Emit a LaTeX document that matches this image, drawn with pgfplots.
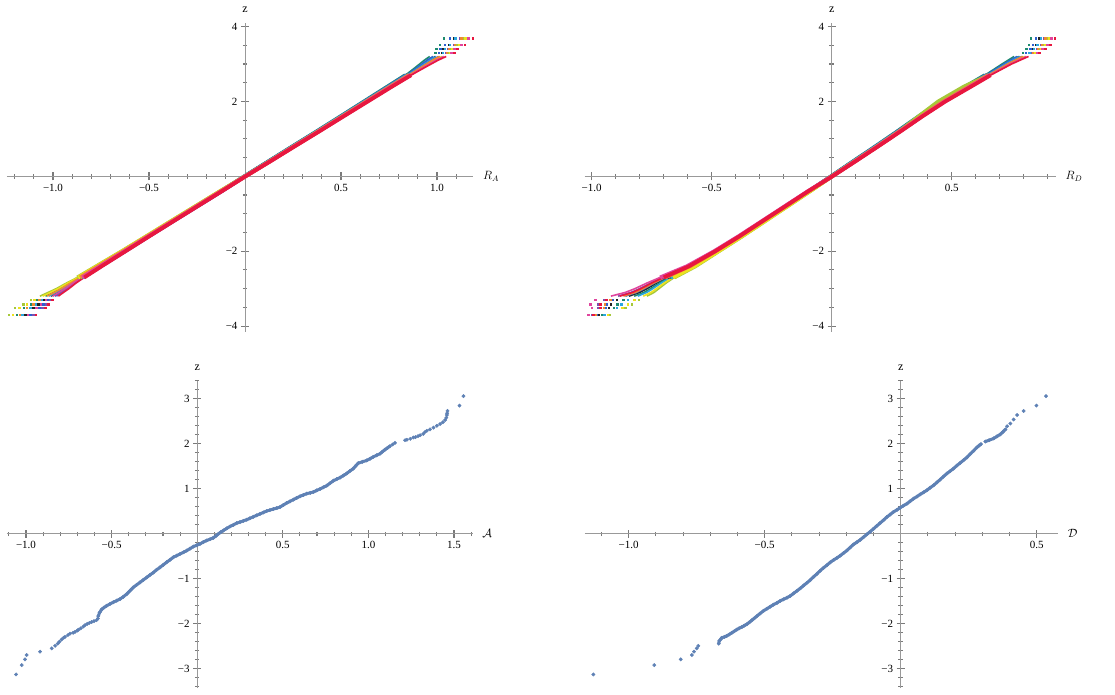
\documentclass[border=0pt]{standalone}
\usepackage{fontspec}
\setmainfont{Liberation Serif}
\usepackage{pgfplots}
\pgfplotsset{compat=1.18}
\usepackage{pgfplotstable}

\definecolor{axgray}{HTML}{999999}
\definecolor{tkgray}{HTML}{7A7A7A}
\definecolor{ptblue}{HTML}{5E81B5}
\definecolor{c1}{HTML}{222222}
\definecolor{c2}{HTML}{1E8B6E}
\definecolor{c3}{HTML}{2F5FD0}
\definecolor{c4}{HTML}{2AA7DF}
\definecolor{c5}{HTML}{7F4FB0}
\definecolor{c6}{HTML}{A6C83A}
\definecolor{c7}{HTML}{EDE21E}
\definecolor{c8}{HTML}{F08A30}
\definecolor{c9}{HTML}{E0459E}
\definecolor{c10}{HTML}{E8173F}

\pgfplotstableread{
z r1 r2 r3 r4 r5 r6 r7 r8 r9 r10
3.30 1.025 0.990 1.010 1.030 1.045 1.055 1.065 1.050 1.075 1.090
3.41 1.033 0.995 1.017 1.039 1.056 1.067 1.078 1.061 1.089 1.105
3.51 1.060 1.015 1.041 1.067 1.087 1.100 1.113 1.093 1.126 1.145
3.69 1.087 1.035 1.065 1.095 1.118 1.133 1.148 1.125 1.163 1.185
-3.30 -1.049 -1.082 -1.027 -1.060 -1.016 -1.115 -1.099 -1.071 -1.038 -1.005
-3.41 -1.077 -1.116 -1.051 -1.090 -1.038 -1.155 -1.136 -1.103 -1.064 -1.025
-3.51 -1.104 -1.152 -1.072 -1.120 -1.056 -1.200 -1.176 -1.136 -1.088 -1.040
-3.69 -1.146 -1.188 -1.118 -1.160 -1.104 -1.230 -1.209 -1.174 -1.132 -1.090
}\tlTail

\pgfplotstableread{
z r1 r2 r3 r4 r5 r6 r7 r8 r9 r10
-3.20 -1.010 -1.039 -0.991 -1.020 -0.982 -1.068 -1.054 -1.030 -1.001 -0.972
-3.10 -0.977 -1.001 -0.961 -0.985 -0.953 -1.025 -1.013 -0.993 -0.969 -0.945
-3.00 -0.943 -0.963 -0.930 -0.950 -0.924 -0.983 -0.973 -0.957 -0.937 -0.917
-2.85 -0.900 -0.915 -0.890 -0.905 -0.885 -0.930 -0.923 -0.910 -0.895 -0.880
-2.70 -0.851 -0.862 -0.844 -0.855 -0.841 -0.873 -0.868 -0.859 -0.848 -0.837
-2.40 -0.757 -0.766 -0.752 -0.760 -0.749 -0.774 -0.770 -0.763 -0.754 -0.746
-2.00 -0.630 -0.636 -0.626 -0.632 -0.624 -0.642 -0.639 -0.634 -0.628 -0.622
-1.60 -0.504 -0.509 -0.501 -0.506 -0.500 -0.514 -0.512 -0.508 -0.503 -0.498
-1.20 -0.379 -0.383 -0.376 -0.380 -0.374 -0.387 -0.385 -0.381 -0.377 -0.373
-0.80 -0.252 -0.255 -0.249 -0.253 -0.248 -0.259 -0.257 -0.254 -0.251 -0.247
-0.40 -0.125 -0.128 -0.123 -0.126 -0.122 -0.131 -0.130 -0.127 -0.124 -0.121
0.00 -0.001 -0.003 -0.002 0.000 0.001 0.001 0.002 0.000 0.002 0.003
0.40 0.125 0.122 0.124 0.126 0.128 0.129 0.130 0.128 0.131 0.132
0.80 0.251 0.247 0.249 0.252 0.254 0.255 0.256 0.254 0.257 0.259
1.20 0.378 0.373 0.376 0.379 0.381 0.382 0.384 0.381 0.385 0.387
1.60 0.503 0.497 0.500 0.503 0.506 0.507 0.509 0.507 0.511 0.513
2.00 0.627 0.620 0.624 0.628 0.631 0.633 0.635 0.632 0.637 0.640
2.40 0.751 0.743 0.748 0.753 0.756 0.759 0.761 0.757 0.763 0.767
2.70 0.846 0.835 0.841 0.847 0.852 0.855 0.858 0.853 0.861 0.865
2.85 0.888 0.873 0.882 0.891 0.897 0.902 0.906 0.899 0.910 0.917
3.00 0.931 0.910 0.922 0.934 0.943 0.949 0.955 0.946 0.961 0.970
3.10 0.959 0.934 0.948 0.963 0.974 0.981 0.988 0.977 0.995 1.006
3.20 0.992 0.962 0.979 0.996 1.009 1.018 1.027 1.014 1.035 1.048
}\tlMid

\pgfplotstableread{
z r1 r2 r3 r4 r5 r6 r7 r8 r9 r10
3.30 0.820 0.795 0.809 0.823 0.834 0.841 0.848 0.837 0.855 0.865
3.41 0.838 0.810 0.826 0.842 0.854 0.862 0.870 0.858 0.878 0.890
3.51 0.852 0.820 0.838 0.856 0.870 0.879 0.888 0.874 0.897 0.910
3.69 0.865 0.830 0.850 0.870 0.885 0.895 0.905 0.890 0.915 0.930
-3.30 -0.895 -0.868 -0.913 -0.850 -0.949 -0.805 -0.823 -0.922 -0.985 -0.940
-3.41 -0.920 -0.894 -0.937 -0.877 -0.972 -0.833 -0.850 -0.946 -1.007 -0.964
-3.51 -0.930 -0.909 -0.944 -0.895 -0.972 -0.860 -0.874 -0.951 -1.000 -0.965
-3.69 -0.970 -0.957 -0.979 -0.948 -0.997 -0.925 -0.934 -0.984 -1.015 -0.993
}\trTail

\pgfplotstableread{
z r1 r2 r3 r4 r5 r6 r7 r8 r9 r10
-3.20 -0.845 -0.823 -0.860 -0.808 -0.890 -0.770 -0.785 -0.868 -0.920 -0.883
-3.10 -0.800 -0.782 -0.812 -0.770 -0.836 -0.740 -0.752 -0.818 -0.860 -0.830
-3.00 -0.770 -0.755 -0.780 -0.745 -0.800 -0.720 -0.730 -0.785 -0.820 -0.795
-2.85 -0.730 -0.718 -0.738 -0.710 -0.754 -0.690 -0.698 -0.742 -0.770 -0.750
-2.70 -0.685 -0.676 -0.691 -0.670 -0.703 -0.655 -0.661 -0.694 -0.715 -0.700
-2.40 -0.585 -0.580 -0.589 -0.576 -0.596 -0.567 -0.571 -0.590 -0.603 -0.594
-2.00 -0.480 -0.477 -0.482 -0.475 -0.486 -0.470 -0.472 -0.483 -0.490 -0.485
-1.60 -0.380 -0.378 -0.382 -0.376 -0.385 -0.372 -0.374 -0.382 -0.388 -0.384
-1.20 -0.285 -0.283 -0.286 -0.282 -0.289 -0.278 -0.279 -0.287 -0.292 -0.289
-0.80 -0.190 -0.188 -0.191 -0.187 -0.194 -0.184 -0.185 -0.192 -0.196 -0.193
-0.40 -0.095 -0.094 -0.096 -0.093 -0.098 -0.090 -0.091 -0.097 -0.100 -0.098
0.00 -0.001 -0.003 -0.002 0.000 0.001 0.001 0.002 0.000 0.002 0.003
0.40 0.092 0.089 0.091 0.093 0.095 0.096 0.097 0.095 0.098 0.099
0.80 0.186 0.182 0.184 0.187 0.189 0.190 0.191 0.189 0.192 0.194
1.20 0.278 0.273 0.276 0.279 0.281 0.282 0.284 0.281 0.285 0.287
1.60 0.368 0.362 0.365 0.368 0.371 0.362 0.374 0.372 0.376 0.378
2.00 0.461 0.454 0.458 0.462 0.465 0.444 0.469 0.466 0.471 0.474
2.40 0.566 0.558 0.563 0.568 0.571 0.552 0.576 0.572 0.578 0.582
2.70 0.646 0.638 0.643 0.648 0.651 0.654 0.656 0.652 0.658 0.662
2.85 0.685 0.674 0.680 0.687 0.692 0.695 0.698 0.693 0.701 0.706
3.00 0.724 0.710 0.718 0.726 0.732 0.736 0.740 0.734 0.744 0.750
3.10 0.753 0.735 0.745 0.755 0.763 0.768 0.773 0.765 0.778 0.785
3.20 0.781 0.760 0.772 0.784 0.793 0.799 0.805 0.796 0.811 0.820
}\trMid

\pgfplotsset{
  bandplot/.style={no markers, line width=3.8pt, restrict y to domain=-2.75:2.75},
  fanplot/.style={no markers, line width=1.6pt},
  tailplot/.style={only marks, mark=square*, mark size=0.75pt},
}

\newcommand{\tkfont}{\fontsize{11}{13}\selectfont}
\newcommand{\lbfont}{\fontsize{12}{14}\selectfont}

\begin{document}
\begin{tikzpicture}
\useasboundingbox (0pt,0pt) rectangle (1115pt,-694pt);

% top left
\begin{axis}[axis lines=middle, anchor=origin, at={(245pt,-176.3pt)}, x=192pt, y=37.45pt,
  axis line style={axgray, line width=0.8pt, -},
  xtick style={draw=tkgray, line width=1.1pt},
  ytick style={draw=tkgray, line width=1.1pt},
  major tick length=8pt,
  minor tick length=4.5pt,
  xmin=-1.24, xmax=1.19, ymin=-4.15, ymax=4.1,
  xtick={-1,-0.5,0.5,1}, xticklabels={\tkfont −1.0,\tkfont −0.5,\tkfont 0.5,\tkfont 1.0},
  minor xtick={-1.2,-1.1,...,1.15},
  ytick={-4,-2,2,4}, yticklabels={\tkfont −4,\tkfont −2,\tkfont 2,\tkfont 4},
  minor ytick={-4,-3.5,...,4},
  xlabel={\lbfont $R_A$}, ylabel={\lbfont z},
  every axis x label/.style={at={(current axis.right of origin)}, anchor=west, xshift=6pt},
  every axis y label/.style={at={(current axis.above origin)}, anchor=south, yshift=7pt}]
\pgfplotsinvokeforeach{1,...,10}{
  \addplot[fanplot, color=c#1, restrict y to domain=2.65:3.3] table[x=r#1,y=z]{\tlMid};
  \addplot[fanplot, color=c#1, restrict y to domain=-3.3:-2.65] table[x=r#1,y=z]{\tlMid};
}
\pgfplotsinvokeforeach{1,...,10}{\addplot[bandplot, color=c#1] table[x=r#1,y=z]{\tlMid};}
\pgfplotsinvokeforeach{1,...,10}{\addplot[tailplot, color=c#1] table[x=r#1,y=z]{\tlTail};}
\end{axis}

% top right
\begin{axis}[axis lines=middle, anchor=origin, at={(831.7pt,-176.3pt)}, x=240pt, y=37.45pt,
  axis line style={axgray, line width=0.8pt, -},
  xtick style={draw=tkgray, line width=1.1pt},
  ytick style={draw=tkgray, line width=1.1pt},
  major tick length=8pt,
  minor tick length=4.5pt,
  xmin=-1.03, xmax=0.935, ymin=-4.15, ymax=4.1,
  xtick={-1,-0.5,0.5}, xticklabels={\tkfont −1.0,\tkfont −0.5,\tkfont 0.5},
  minor xtick={-0.9,-0.8,...,0.95},
  ytick={-4,-2,2,4}, yticklabels={\tkfont −4,\tkfont −2,\tkfont 2,\tkfont 4},
  minor ytick={-4,-3.5,...,4},
  xlabel={\lbfont $R_D$}, ylabel={\lbfont z},
  every axis x label/.style={at={(current axis.right of origin)}, anchor=west, xshift=6pt},
  every axis y label/.style={at={(current axis.above origin)}, anchor=south, yshift=7pt}]
\pgfplotsinvokeforeach{1,...,10}{
  \addplot[fanplot, color=c#1, restrict y to domain=2.65:3.3] table[x=r#1,y=z]{\trMid};
  \addplot[fanplot, color=c#1, restrict y to domain=-3.3:-2.65] table[x=r#1,y=z]{\trMid};
}
\pgfplotsinvokeforeach{1,...,10}{\addplot[bandplot, color=c#1] table[x=r#1,y=z]{\trMid};}
\pgfplotsinvokeforeach{1,...,10}{\addplot[tailplot, color=c#1] table[x=r#1,y=z]{\trTail};}
\end{axis}

% bottom left
\begin{axis}[axis lines=middle, anchor=origin, at={(197.2pt,-533.8pt)}, x=171.2pt, y=45pt,
  axis line style={axgray, line width=0.8pt, -},
  xtick style={draw=tkgray, line width=1.1pt},
  ytick style={draw=tkgray, line width=1.1pt},
  major tick length=8pt,
  minor tick length=4.5pt,
  xmin=-1.113, xmax=1.609, ymin=-3.43, ymax=3.40,
  xtick={-1,-0.5,0.5,1,1.5}, xticklabels={\tkfont −1.0,\tkfont −0.5,\tkfont 0.5,\tkfont 1.0,\tkfont 1.5},
  minor xtick={-1.1,-1.0,...,1.65},
  ytick={-3,-2,-1,1,2,3}, yticklabels={\tkfont −3,\tkfont −2,\tkfont −1,\tkfont 1,\tkfont 2,\tkfont 3},
  minor ytick={-3.4,-3.2,...,3.4},
  xlabel={\lbfont $\mathcal{A}$}, ylabel={\lbfont z},
  every axis x label/.style={at={(current axis.right of origin)}, anchor=west, xshift=6pt},
  every axis y label/.style={at={(current axis.above origin)}, anchor=south, yshift=7pt}]
\addplot[no markers, line width=3pt, color=ptblue, line join=round, line cap=round] coordinates {
(-0.578,-1.83) (-0.570,-1.75) (-0.558,-1.68)
(-0.545,-1.64) (-0.529,-1.60) (-0.510,-1.56) (-0.490,-1.52) (-0.470,-1.485)
(-0.451,-1.45) (-0.432,-1.40) (-0.412,-1.34) (-0.399,-1.29) (-0.386,-1.24)
(-0.373,-1.19) (-0.354,-1.135) (-0.334,-1.08) (-0.315,-1.025) (-0.295,-0.97)
(-0.276,-0.915) (-0.256,-0.86) (-0.237,-0.80) (-0.217,-0.745) (-0.198,-0.69)
(-0.178,-0.63) (-0.158,-0.575) (-0.139,-0.52) (-0.120,-0.485) (-0.100,-0.447)
(-0.080,-0.41) (-0.061,-0.372) (-0.042,-0.33) (-0.022,-0.283) (-0.003,-0.255)
(0.016,-0.224) (0.035,-0.185) (0.055,-0.149) (0.075,-0.12) (0.094,-0.09)
(0.110,-0.045) (0.124,0.0) (0.138,0.037) (0.153,0.074) (0.172,0.12)
(0.192,0.164) (0.212,0.20) (0.231,0.238) (0.250,0.262) (0.270,0.288)
(0.289,0.313) (0.308,0.345) (0.328,0.378) (0.347,0.41) (0.367,0.442)
(0.386,0.474) (0.406,0.506) (0.425,0.528) (0.445,0.55) (0.465,0.572)
(0.484,0.595) (0.503,0.64) (0.523,0.685) (0.542,0.722) (0.562,0.76)
(0.581,0.797) (0.601,0.834) (0.620,0.863) (0.640,0.893) (0.660,0.91)
(0.679,0.93) (0.698,0.964) (0.718,0.998) (0.737,1.034) (0.757,1.07)
(0.776,1.125) (0.796,1.18) (0.815,1.215) (0.835,1.25) (0.854,1.295)
(0.873,1.34) (0.892,1.395) (0.912,1.45) (0.926,1.51) (0.941,1.57)
(0.965,1.60) (0.990,1.63) (1.010,1.67) (1.029,1.71) (1.048,1.745)
(1.068,1.78) (1.082,1.825) (1.097,1.87) (1.112,1.91) (1.126,1.95)
};
\addplot[only marks, mark=*, mark size=1.7pt, color=ptblue, mark options={draw=none}] coordinates {
(-1.058,-3.125) (-1.025,-2.917) (-1.006,-2.79) (-0.996,-2.694) (-0.918,-2.62)
(-0.850,-2.545) (-0.830,-2.49) (-0.815,-2.44) (-0.805,-2.40) (-0.792,-2.35)
(-0.780,-2.31) (-0.772,-2.29) (-0.755,-2.25) (-0.743,-2.22) (-0.725,-2.20)
(-0.714,-2.18) (-0.700,-2.15) (-0.694,-2.13) (-0.680,-2.10) (-0.665,-2.06)
(-0.655,-2.03) (-0.642,-2.00) (-0.630,-1.98) (-0.617,-1.96) (-0.603,-1.94)
(-0.588,-1.92) (-0.580,-1.88) (-0.578,-1.83) (-0.570,-1.75) (-0.558,-1.68)
(-0.545,-1.64) (-0.529,-1.60) (-0.510,-1.56) (-0.490,-1.52) (-0.470,-1.485)
(-0.451,-1.45) (-0.432,-1.40) (-0.412,-1.34) (-0.399,-1.29) (-0.386,-1.24)
(-0.373,-1.19) (-0.354,-1.135) (-0.334,-1.08) (-0.315,-1.025) (-0.295,-0.97)
(-0.276,-0.915) (-0.256,-0.86) (-0.237,-0.80) (-0.217,-0.745) (-0.198,-0.69)
(-0.178,-0.63) (-0.158,-0.575) (-0.139,-0.52) (-0.120,-0.485) (-0.100,-0.447)
(-0.080,-0.41) (-0.061,-0.372) (-0.042,-0.33) (-0.022,-0.283) (-0.003,-0.255)
(0.016,-0.224) (0.035,-0.185) (0.055,-0.149) (0.075,-0.12) (0.094,-0.09)
(0.110,-0.045) (0.124,0.0) (0.138,0.037) (0.153,0.074) (0.172,0.12)
(0.192,0.164) (0.212,0.20) (0.231,0.238) (0.250,0.262) (0.270,0.288)
(0.289,0.313) (0.308,0.345) (0.328,0.378) (0.347,0.41) (0.367,0.442)
(0.386,0.474) (0.406,0.506) (0.425,0.528) (0.445,0.55) (0.465,0.572)
(0.484,0.595) (0.503,0.64) (0.523,0.685) (0.542,0.722) (0.562,0.76)
(0.581,0.797) (0.601,0.834) (0.620,0.863) (0.640,0.893) (0.660,0.91)
(0.679,0.93) (0.698,0.964) (0.718,0.998) (0.737,1.034) (0.757,1.07)
(0.776,1.125) (0.796,1.18) (0.815,1.215) (0.835,1.25) (0.854,1.295)
(0.873,1.34) (0.892,1.395) (0.912,1.45) (0.926,1.51) (0.941,1.57)
(0.965,1.60) (0.990,1.63) (1.010,1.67) (1.029,1.71) (1.048,1.745)
(1.068,1.78) (1.082,1.825) (1.097,1.87) (1.112,1.91) (1.126,1.95)
(1.141,1.985) (1.155,2.02) (1.214,2.08) (1.225,2.09) (1.245,2.11)
(1.263,2.14) (1.275,2.15) (1.290,2.17) (1.302,2.19) (1.320,2.22)
(1.330,2.26) (1.341,2.29) (1.360,2.32) (1.380,2.36) (1.400,2.40)
(1.419,2.44) (1.435,2.48) (1.448,2.53) (1.455,2.58) (1.458,2.64)
(1.460,2.68) (1.462,2.73) (1.532,2.85) (1.555,3.06)
};
\end{axis}

% bottom right
\begin{axis}[axis lines=middle, anchor=origin, at={(900.7pt,-533.8pt)}, x=272pt, y=45pt,
  axis line style={axgray, line width=0.8pt, -},
  xtick style={draw=tkgray, line width=1.1pt},
  ytick style={draw=tkgray, line width=1.1pt},
  major tick length=8pt,
  minor tick length=4.5pt,
  xmin=-1.161, xmax=0.579, ymin=-3.43, ymax=3.40,
  xtick={-1,-0.5,0.5}, xticklabels={\tkfont −1.0,\tkfont −0.5,\tkfont 0.5},
  minor xtick={-1.1,-1.0,...,0.55},
  ytick={-3,-2,-1,1,2,3}, yticklabels={\tkfont −3,\tkfont −2,\tkfont −1,\tkfont 1,\tkfont 2,\tkfont 3},
  minor ytick={-3.4,-3.2,...,3.4},
  xlabel={\lbfont $\mathcal{D}$}, ylabel={\lbfont z},
  every axis x label/.style={at={(current axis.right of origin)}, anchor=west, xshift=6pt},
  every axis y label/.style={at={(current axis.above origin)}, anchor=south, yshift=7pt}]
\addplot[no markers, line width=3pt, color=ptblue, line join=round, line cap=round] coordinates {
(-0.669,-2.44) (-0.667,-2.38) (-0.660,-2.33)
(-0.658,-2.31) (-0.648,-2.29) (-0.640,-2.27) (-0.630,-2.235) (-0.621,-2.20)
(-0.612,-2.165) (-0.603,-2.13) (-0.594,-2.10) (-0.584,-2.07) (-0.575,-2.04)
(-0.566,-2.01) (-0.556,-1.965) (-0.547,-1.92) (-0.538,-1.875) (-0.529,-1.83)
(-0.517,-1.77) (-0.504,-1.71) (-0.492,-1.665) (-0.480,-1.62) (-0.468,-1.575)
(-0.455,-1.535) (-0.443,-1.49) (-0.431,-1.455) (-0.418,-1.42) (-0.406,-1.38)
(-0.394,-1.325) (-0.381,-1.265) (-0.369,-1.21) (-0.357,-1.15) (-0.345,-1.09)
(-0.333,-1.03) (-0.321,-0.96) (-0.308,-0.89) (-0.296,-0.82) (-0.284,-0.757)
(-0.271,-0.695) (-0.259,-0.633) (-0.247,-0.583) (-0.234,-0.533) (-0.222,-0.484)
(-0.210,-0.428) (-0.198,-0.372) (-0.186,-0.305) (-0.174,-0.238) (-0.161,-0.186)
(-0.149,-0.134) (-0.137,-0.075) (-0.125,-0.015) (-0.112,0.048) (-0.100,0.112)
(-0.088,0.175) (-0.076,0.238) (-0.063,0.305) (-0.051,0.372) (-0.039,0.428)
(-0.027,0.484) (-0.014,0.532) (-0.002,0.58) (0.010,0.625) (0.023,0.67)
(0.035,0.725) (0.047,0.78) (0.060,0.829) (0.072,0.878) (0.084,0.922)
(0.096,0.967) (0.108,1.023) (0.121,1.079) (0.133,1.142) (0.145,1.205)
(0.157,1.272) (0.170,1.34) (0.182,1.395) (0.194,1.45) (0.206,1.513)
(0.219,1.577) (0.231,1.636) (0.243,1.696) (0.255,1.77) (0.268,1.845)
(0.280,1.92) (0.288,1.96) (0.295,1.994)
};
\addplot[no markers, line width=3pt, color=ptblue, line join=round, line cap=round] coordinates {
(0.311,2.05) (0.325,2.08) (0.342,2.12) (0.354,2.165) (0.366,2.21) (0.376,2.265) (0.385,2.32)
};
\addplot[only marks, mark=*, mark size=1.7pt, color=ptblue, mark options={draw=none}] coordinates {
(-1.130,-3.125) (-0.906,-2.917) (-0.809,-2.79) (-0.768,-2.694) (-0.760,-2.62)
(-0.750,-2.545) (-0.744,-2.49) (-0.669,-2.44) (-0.667,-2.38) (-0.660,-2.33)
(-0.658,-2.31) (-0.648,-2.29) (-0.640,-2.27) (-0.630,-2.235) (-0.621,-2.20)
(-0.612,-2.165) (-0.603,-2.13) (-0.594,-2.10) (-0.584,-2.07) (-0.575,-2.04)
(-0.566,-2.01) (-0.556,-1.965) (-0.547,-1.92) (-0.538,-1.875) (-0.529,-1.83)
(-0.517,-1.77) (-0.504,-1.71) (-0.492,-1.665) (-0.480,-1.62) (-0.468,-1.575)
(-0.455,-1.535) (-0.443,-1.49) (-0.431,-1.455) (-0.418,-1.42) (-0.406,-1.38)
(-0.394,-1.325) (-0.381,-1.265) (-0.369,-1.21) (-0.357,-1.15) (-0.345,-1.09)
(-0.333,-1.03) (-0.321,-0.96) (-0.308,-0.89) (-0.296,-0.82) (-0.284,-0.757)
(-0.271,-0.695) (-0.259,-0.633) (-0.247,-0.583) (-0.234,-0.533) (-0.222,-0.484)
(-0.210,-0.428) (-0.198,-0.372) (-0.186,-0.305) (-0.174,-0.238) (-0.161,-0.186)
(-0.149,-0.134) (-0.137,-0.075) (-0.125,-0.015) (-0.112,0.048) (-0.100,0.112)
(-0.088,0.175) (-0.076,0.238) (-0.063,0.305) (-0.051,0.372) (-0.039,0.428)
(-0.027,0.484) (-0.014,0.532) (-0.002,0.58) (0.010,0.625) (0.023,0.67)
(0.035,0.725) (0.047,0.78) (0.060,0.829) (0.072,0.878) (0.084,0.922)
(0.096,0.967) (0.108,1.023) (0.121,1.079) (0.133,1.142) (0.145,1.205)
(0.157,1.272) (0.170,1.34) (0.182,1.395) (0.194,1.45) (0.206,1.513)
(0.219,1.577) (0.231,1.636) (0.243,1.696) (0.255,1.77) (0.268,1.845)
(0.280,1.92) (0.288,1.96) (0.295,1.994) (0.311,2.05) (0.325,2.08)
(0.342,2.12) (0.354,2.165) (0.366,2.21) (0.376,2.265) (0.385,2.32)
(0.391,2.39) (0.403,2.45) (0.415,2.54) (0.428,2.64) (0.452,2.73)
(0.499,2.85) (0.534,3.06)
};
\end{axis}
\end{tikzpicture}
\end{document}
